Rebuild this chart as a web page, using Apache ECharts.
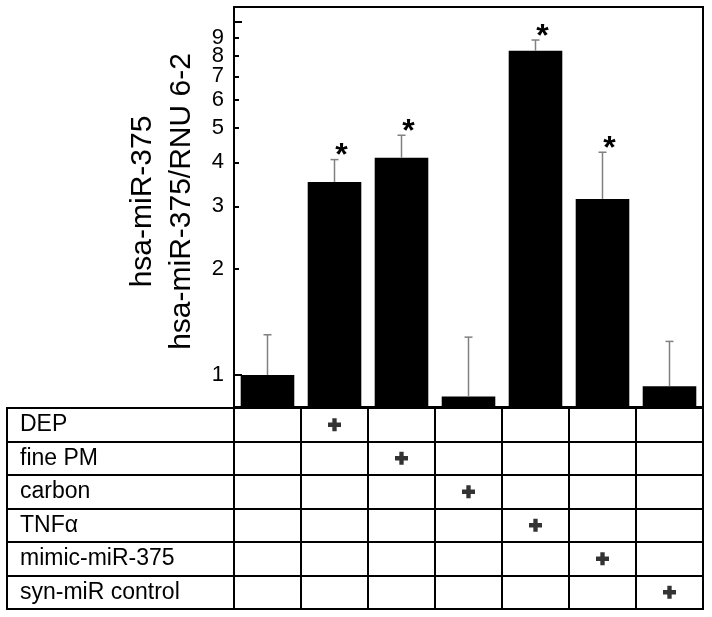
<!DOCTYPE html>
<html><head><meta charset="utf-8">
<script src="https://cdn.jsdelivr.net/npm/echarts@6/dist/echarts.min.js"></script>
<style>html,body{margin:0;padding:0;background:#fff}#c{width:712px;height:617px}</style>
</head><body><div id="c"></div>
<script>
// ---- data ----
const categories = ['control', 'DEP', 'fine PM', 'carbon', 'TNFα', 'mimic-miR-375', 'syn-miR control'];
const barValues = [1.00, 3.52, 4.12, 0.87, 8.27, 3.15, 0.93];
const errorTops = [1.30, 4.07, 4.77, 1.28, 8.87, 4.27, 1.245];
const significant = [false, true, true, false, true, true, false];
const treatmentRows = ['DEP', 'fine PM', 'carbon', 'TNFα', 'mimic-miR-375', 'syn-miR control'];
const barTreatment = [null, 'DEP', 'fine PM', 'carbon', 'TNFα', 'mimic-miR-375', 'syn-miR control'];
const majorTicks = [1, 10];
const minorTicks = [2, 3, 4, 5, 6, 7, 8, 9];
const tickLabels = [1, 2, 3, 4, 5, 6, 7, 8, 9];
const yMin = 0.812, yMax = 11.0;
const yTitle = 'hsa-miR-375\nhsa-miR-375/RNU 6-2';

// ---- helpers ----
const FONT = '"Liberation Sans", Arial, sans-serif';
const logMin = Math.log10(yMin);
const s = v => Math.log10(v) - logMin;   // log-scale transform (shifted so bars start at the axis bottom)

const plotLeft = 234, plotRight = 703, tableLeft = 7;
const colW = (plotRight - plotLeft) / categories.length;
const tableXMin = -(plotLeft - tableLeft) / colW;
const colBounds = [tableXMin].concat(categories.map((_, i) => i), [categories.length]);

// the 7/8/9 labels overlap in the original; split them over two axes so none gets suppressed
const labelsA = tickLabels.filter((_, i) => i % 2 === 0);
const labelsB = tickLabels.filter((_, i) => i % 2 === 1);

const labelStyle = {margin: 10, fontSize: 22, color: '#000', fontFamily: FONT,
  hideOverlap: false, showMinLabel: true, showMaxLabel: true,
  formatter: v => String(Math.round(Math.pow(10, v + logMin)))};

const chart = echarts.init(document.getElementById('c'), null, {renderer: 'canvas'});
chart.setOption({
  animation: false,
  backgroundColor: '#fff',
  grid: [
    {left: plotLeft, right: 712 - plotRight, top: 7, height: 400, show: true, borderColor: '#000', borderWidth: 2, containLabel: false, outerBoundsMode: 'none'},
    {left: tableLeft, right: 712 - plotRight, top: 408, height: 201, show: true, borderColor: '#000', borderWidth: 2, containLabel: false, outerBoundsMode: 'none'}
  ],
  xAxis: [
    {type: 'category', gridIndex: 0, data: categories, axisLine: {show: false}, axisTick: {show: false}, axisLabel: {show: false}, splitLine: {show: false}},
    {type: 'value', gridIndex: 1, min: tableXMin, max: categories.length,
     axisLine: {show: false}, axisTick: {show: false, customValues: colBounds}, axisLabel: {show: false},
     splitLine: {show: true, lineStyle: {color: '#000', width: 2}}}
  ],
  yAxis: [
    {type: 'value', gridIndex: 0, min: 0, max: s(yMax), position: 'left',
     name: yTitle, nameLocation: 'middle', nameRotate: 90, nameGap: 33,
     nameTextStyle: {fontSize: 30, lineHeight: 39, color: '#000', fontFamily: FONT, padding: [0, 0, 0, 11]},
     axisLine: {show: true, lineStyle: {color: '#000', width: 2}},
     axisTick: {show: true, inside: true, length: 8, lineStyle: {color: '#000', width: 2}, customValues: majorTicks.map(s)},
     axisLabel: Object.assign({show: true, customValues: labelsA.map(s)}, labelStyle),
     splitLine: {show: false}},
    {type: 'value', gridIndex: 0, min: 0, max: s(yMax), position: 'left',
     axisLine: {show: false},
     axisTick: {show: true, inside: true, length: 5, lineStyle: {color: '#000', width: 2}, customValues: minorTicks.map(s)},
     axisLabel: Object.assign({show: true, customValues: labelsB.map(s)}, labelStyle),
     splitLine: {show: false}},
    {type: 'category', gridIndex: 1, data: treatmentRows, inverse: true,
     axisLine: {show: false}, axisTick: {show: false},
     axisLabel: {inside: true, align: 'left', margin: 13, fontSize: 23, color: '#000', fontFamily: FONT},
     splitLine: {show: true, interval: 0, lineStyle: {color: '#000', width: 2}}}
  ],
  series: [
    {type: 'bar', xAxisIndex: 0, yAxisIndex: 0, data: barValues.map(s), barWidth: '80%',
     itemStyle: {color: '#000'}, silent: true},
    {type: 'custom', xAxisIndex: 0, yAxisIndex: 0, silent: true, z: 3,
     data: barValues.map((v, i) => [i, s(v), s(errorTops[i]), significant[i] ? 1 : 0]),
     renderItem: (params, api) => {
       const i = api.value(0);
       const p0 = api.coord([i, api.value(1)]);
       const p1 = api.coord([i, api.value(2)]);
       const children = [
         {type: 'line', shape: {x1: p0[0], y1: p0[1], x2: p1[0], y2: p1[1]}, style: {stroke: '#808080', lineWidth: 1.5}},
         {type: 'line', shape: {x1: p1[0] - 4, y1: p1[1], x2: p1[0] + 4, y2: p1[1]}, style: {stroke: '#808080', lineWidth: 1.5}}
       ];
       if (api.value(3)) {
         children.push({type: 'text', x: p1[0] + 7, y: p1[1] - 3,
           style: {text: '*', fontSize: 32, fontWeight: 'bold', fontFamily: FONT, fill: '#000', align: 'center', verticalAlign: 'middle'}});
       }
       return {type: 'group', children};
     }},
    {type: 'scatter', xAxisIndex: 1, yAxisIndex: 2, silent: true,
     symbol: 'path://M4,0H8V4H12V8H8V12H4V8H0V4H4Z', symbolSize: 13,
     itemStyle: {color: '#000'},
     data: barTreatment.map((t, i) => t ? [i + 0.5, treatmentRows.indexOf(t)] : null).filter(d => d)}
  ]
});
</script>
</body></html>
